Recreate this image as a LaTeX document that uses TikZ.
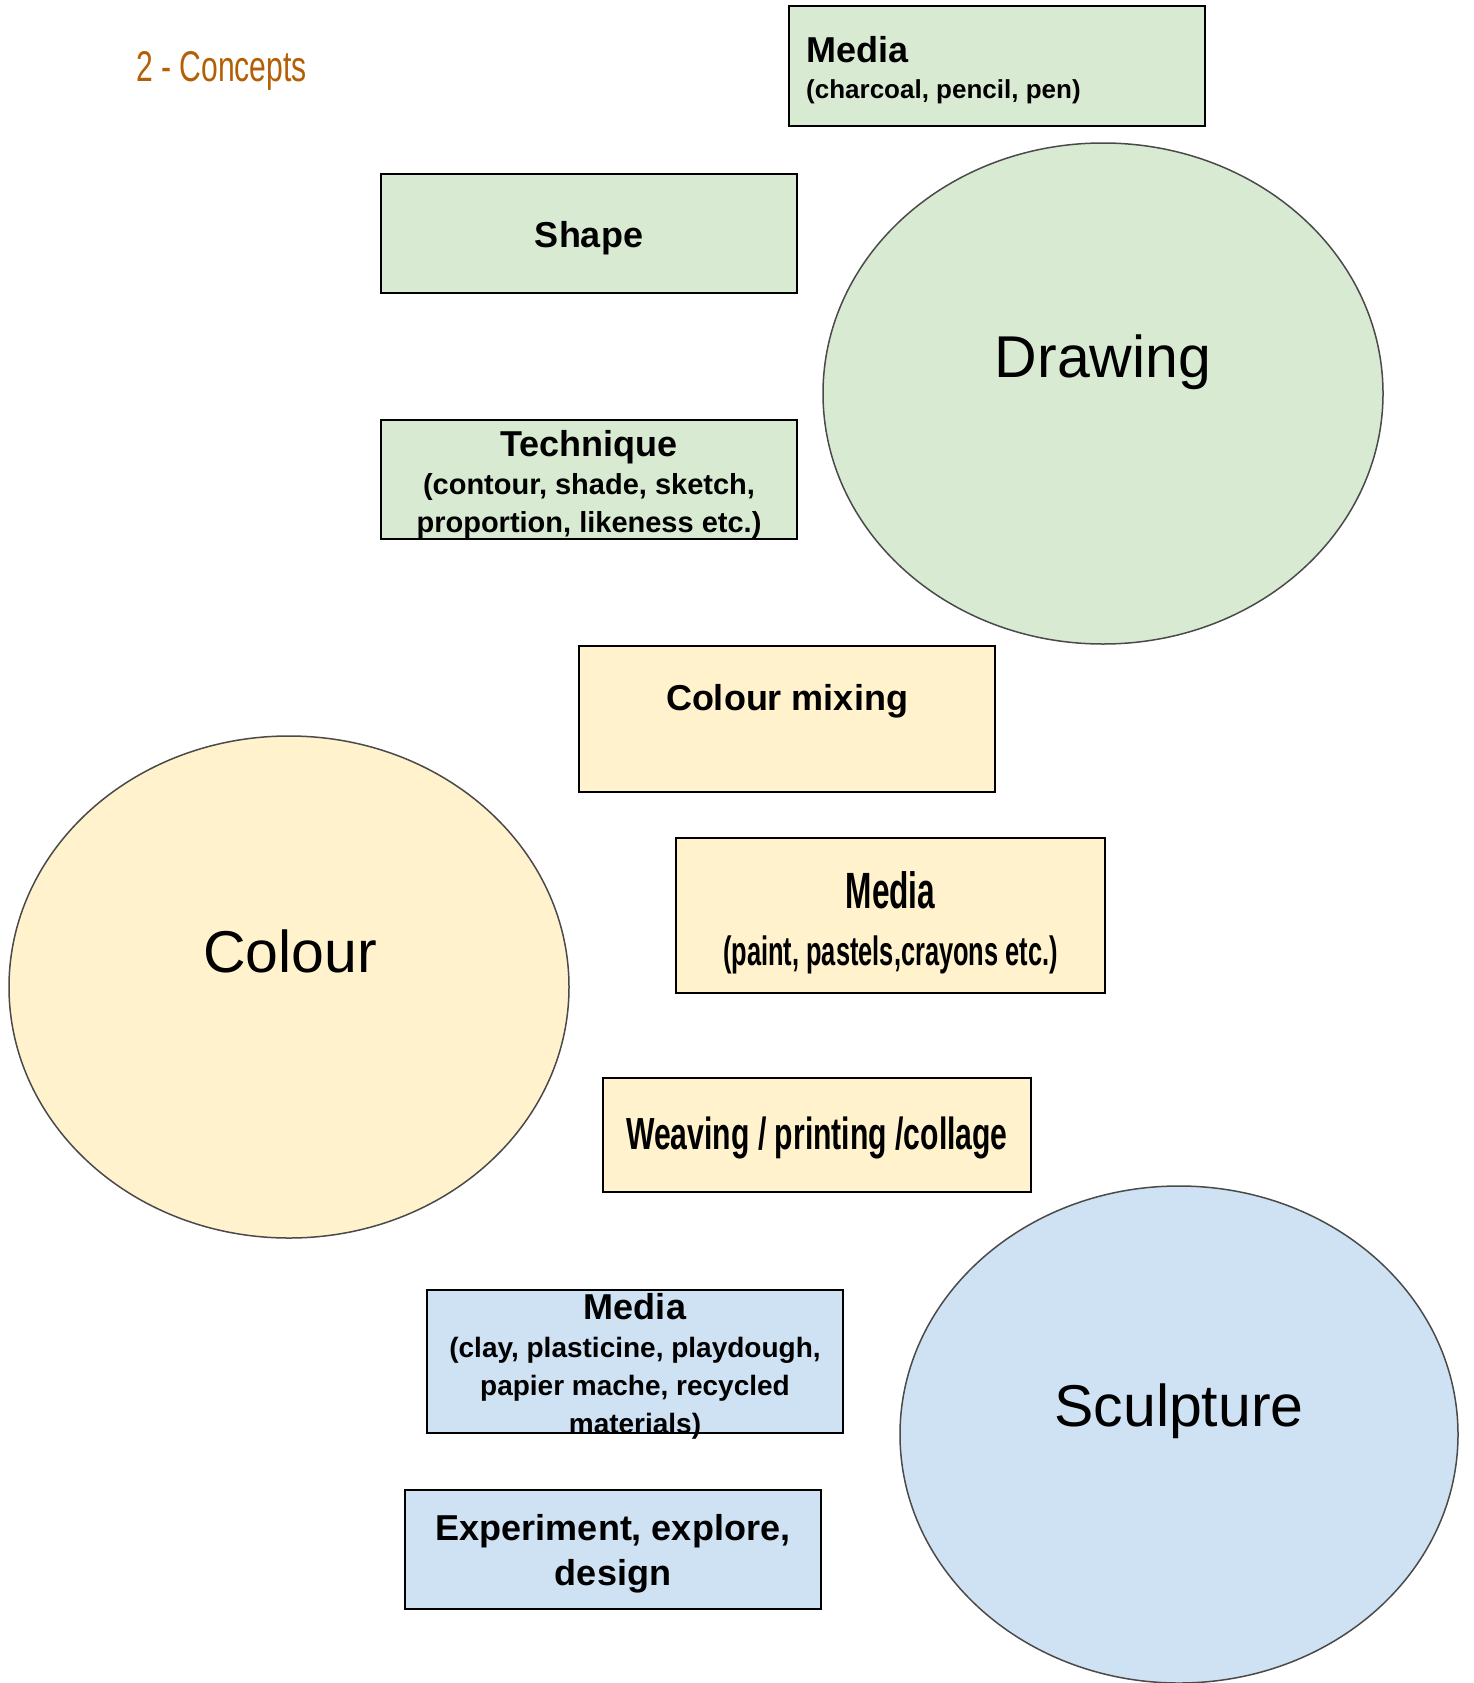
\documentclass[tikz,border=0pt]{standalone}
\usepackage{fontspec}
\setmainfont{Liberation Sans}
\newfontfamily\narrowfont[FakeStretch=0.62]{Liberation Sans}
\newfontfamily\weavefont[FakeStretch=0.67]{Liberation Sans}
\newfontfamily\titlefont[FakeStretch=0.7]{Liberation Sans}
\usetikzlibrary{positioning, shapes.geometric}
\definecolor{drawgreen}{HTML}{D9EAD3}
\definecolor{colouryellow}{HTML}{FFF2CC}
\definecolor{sculptblue}{HTML}{CFE2F3}
\definecolor{blobedge}{HTML}{4A4A4A}
\definecolor{headbrown}{HTML}{B45F06}
\tikzstyle{card} = [draw=black, line width=2pt, rectangle, minimum width=416pt,
	inner sep=0pt]
\tikzstyle{cardtext} = [inner sep=0pt, align=center, font=\bfseries\fontsize{29}{38}\selectfont]
\tikzstyle{blob} = [draw=blobedge, line width=1.5pt, ellipse, minimum width=560pt,
	minimum height=501pt, inner sep=0pt]
\tikzstyle{word} = [font=\fontsize{59}{68}\selectfont, inner sep=0pt]
\newcommand{\boxhead}[1]{{\fontsize{36}{38}\selectfont #1}}

\begin{document}
\begin{tikzpicture}[x=1pt, y=-1pt]
		\useasboundingbox (0,0) rectangle (1473,1683);
		\node [anchor=west, inner sep=0pt, text=headbrown,
			font=\titlefont\fontsize{43}{50}\selectfont] (title) at (136,71) {2 - Concepts};
	
		% drawing
		\node [card, fill=drawgreen, minimum height=120pt] (mediaD) at (997,66) {};
		\node [cardtext, anchor=west, align=left, font=\bfseries\fontsize{26}{36}\selectfont]
			(mediaDtxt) at ([xshift=18pt, yshift=-4pt]mediaD.west) {\boxhead{Media}\\(charcoal, pencil, pen)};
		\node [card, fill=drawgreen, minimum height=119pt] (shape) at (589,233.5) {};
		\node [cardtext] (shapetxt) at ([yshift=-5pt]shape.center) {\boxhead{Shape}};
		\node [blob, fill=drawgreen] (drawing) at (1103,393.5) {};
		\node [word] (drawingtxt) at (1103,362) {Drawing};
		\node [card, fill=drawgreen, minimum height=119pt] (tech) at (589,479.5) {};
		\node [cardtext] (techtxt) at ([yshift=-5pt]tech.center)
			{\boxhead{Technique}\\(contour, shade, sketch,\\proportion, likeness etc.)};
	
		% colour
		\node [card, fill=colouryellow, minimum height=146pt] (mix) at (787,719) {};
		\node [cardtext] (mixtxt) at (787,701) {\boxhead{Colour mixing}};
		\node [blob, fill=colouryellow, minimum height=502pt] (colour) at (289,987) {};
		\node [word] (colourtxt) at (290,951) {Colour};
		\node [card, fill=colouryellow, minimum width=429pt, minimum height=155pt] (mediaP) at (890.5,915.5) {};
		\node [cardtext, font=\narrowfont\bfseries\fontsize{41}{57}\selectfont] (mediaPtxt)
			at ([yshift=-7pt]mediaP.center) {{\fontsize{51}{57}\selectfont Media}\\(paint, pastels,crayons etc.)};
		\node [card, fill=colouryellow, minimum width=428pt, minimum height=114pt] (weave) at (817,1135) {};
		\node [cardtext, font=\weavefont\bfseries\fontsize{45}{50}\selectfont] (weavetxt)
			at ([yshift=-3pt]weave.center) {Weaving / printing /collage};
	
		% sculpture
		\node [blob, fill=sculptblue, minimum width=558pt, minimum height=497pt] (sculpture) at (1179,1434.5) {};
		\node [word] (sculpturetxt) at (1179,1411) {Sculpture};
		\node [card, fill=sculptblue, minimum height=143pt] (mediaS) at (635,1361.5) {};
		\node [cardtext, font=\bfseries\fontsize{28}{38}\selectfont] (mediaStxt) at (635,1366)
			{\boxhead{Media}\\(clay, plasticine, playdough,\\papier mache, recycled\\materials)};
		\node [card, fill=sculptblue, minimum height=119pt] (explore) at (613,1549.5) {};
		\node [cardtext, font=\bfseries\fontsize{36}{45}\selectfont] (exploretxt)
			at ([yshift=-4pt]explore.center) {Experiment, explore,\\design};
	\end{tikzpicture}
\end{document}
